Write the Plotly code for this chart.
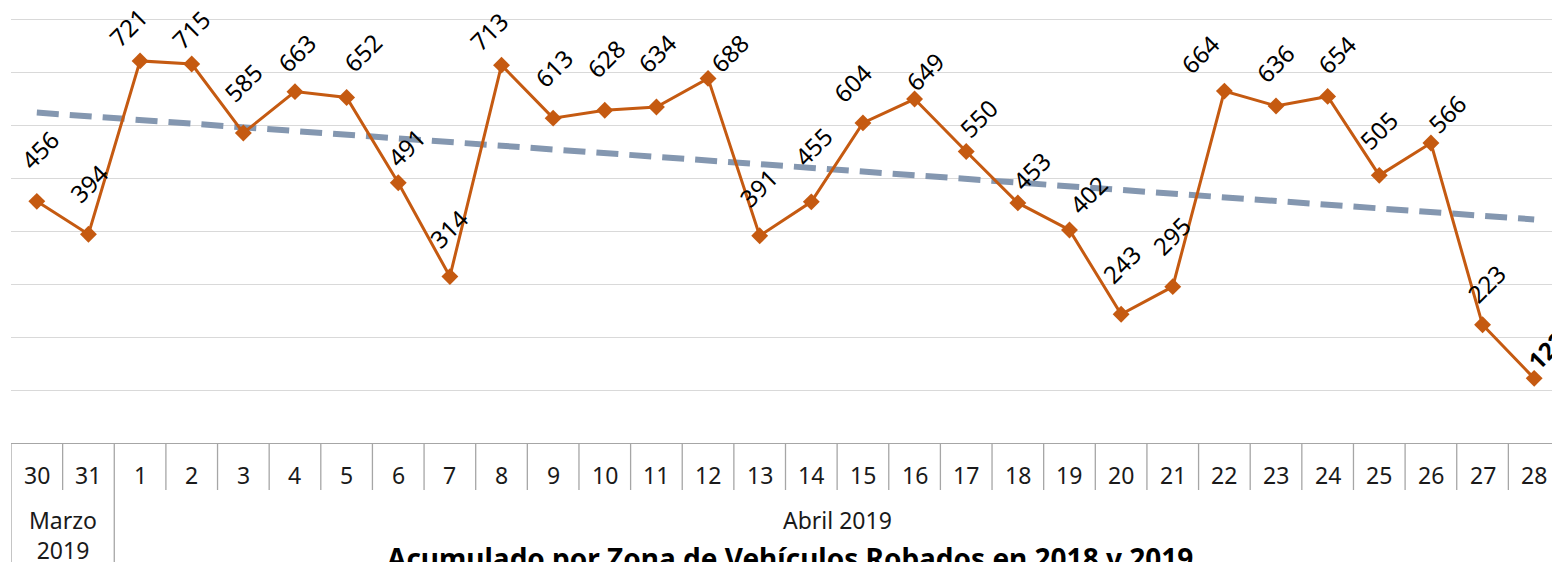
import numpy as np
import plotly.graph_objects as go

# ---- data ----
days = ["30", "31"] + [str(d) for d in range(1, 29)]
months = ["Marzo<br>2019", "Abril 2019"]
month_counts = [2, 28]
values = [456, 394, 721, 715, 585, 663, 652, 491, 314, 713,
          613, 628, 634, 688, 391, 455, 604, 649, 550, 453,
          402, 243, 295, 664, 636, 654, 505, 566, 223, 122]
title_text = "Acumulado por Zona de Vehículos Robados en 2018 y 2019"

# label offsets (pixels, screen coords: dx right, dy down) - styling only
label_offsets = [(3, -52), (0, -51), (-12, -33), (-1, -35), (0, -50), (2, -39),
                 (16, -45), (8, -35), (-1, -48), (-13, -34), (0, -50), (1, -52),
                 (0, -54), (21, -25), (-1, -48), (2, -55), (-10, -40), (10, -28),
                 (12, -33), (14, -32), (19, -35), (0, -50), (-1, -51), (-25, -37),
                 (-1, -42), (9, -42), (-1, -45), (16, -30), (4, -41), (12, -28)]

FONT = "Noto Sans"
ORANGE = "#C55A11"
TREND = "#8497B0"
AXIS = "#A6A6A6"

# the page body has an 8px margin: compensate so the plot area lands at
# page x 11..1560, page y 0..443
W, H = 1560, 562
ML, MR, MT = 3, 8, 0
PH = 435
MB = H - MT - PH
YMAX = 820.8

fig = go.Figure()

# linear trend (least squares over all points)
idx = np.arange(len(values))
slope, intercept = np.polyfit(idx, np.array(values, dtype=float), 1)
fig.add_trace(go.Scatter(
    x=[days[0], days[-1]],
    y=[intercept, intercept + slope * idx[-1]],
    mode="lines",
    line=dict(color=TREND, width=6, dash="22px,11px"),
    hoverinfo="skip", showlegend=False,
))

fig.add_trace(go.Scatter(
    x=days, y=values, mode="lines+markers",
    line=dict(color=ORANGE, width=3),
    marker=dict(symbol="diamond", size=13, color=ORANGE),
    showlegend=False, cliponaxis=False,
))

annotations = []
for i, v in enumerate(values):
    dx, dy = label_offsets[i]
    last = i == len(values) - 1
    annotations.append(dict(
        x=i, y=v, xref="x", yref="y", text=f"<b>{v}</b>" if last else str(v),
        showarrow=False, textangle=-45, xshift=dx, yshift=-dy,
        font=dict(family=FONT, size=24, color="#000000"),
        xanchor="center", yanchor="middle",
    ))

# day tick labels
for i, d in enumerate(days):
    annotations.append(dict(
        x=i, y=0, xref="x", yref="paper", text=d, showarrow=False,
        yshift=-32, yanchor="middle", xanchor="center",
        font=dict(family=FONT, size=23, color="#1a1a1a"),
    ))

# month group labels
start = 0
shapes = []
for m, c in zip(months, month_counts):
    center = start + (c - 1) / 2
    annotations.append(dict(
        x=center, y=0, xref="x", yref="paper", text=m, showarrow=False,
        yshift=-77 if c > 2 else -92, yanchor="middle", xanchor="center",
        font=dict(family=FONT, size=23, color="#1a1a1a"),
    ))
    start += c

# title (partially cut at bottom like the reference)
annotations.append(dict(
    x=0.5, y=0, xref="paper", yref="paper", text=f"<b>{title_text}</b>",
    showarrow=False, yshift=-94, yanchor="top", xanchor="center", xshift=4,
    font=dict(family=FONT, size=28, color="#000000"),
))

# box lines of the category axis
group_bounds = set()
acc = 0
for c in month_counts:
    group_bounds.add(acc)
    acc += c
tick_h = 47 / PH
for i in range(len(days)):
    y1 = -(MB + 20) / PH if i in group_bounds else -tick_h
    shapes.append(dict(
        type="line", xref="x", yref="paper", x0=i - 0.5, x1=i - 0.5,
        y0=0, y1=y1, line=dict(color=AXIS, width=1.3),
    ))

fig.update_layout(
    width=W, height=H,
    margin=dict(l=ML, r=MR, t=MT, b=MB, pad=0),
    paper_bgcolor="white", plot_bgcolor="white",
    annotations=annotations, shapes=shapes,
    xaxis=dict(type="category", categoryorder="array", categoryarray=days,
               range=[-0.5, len(days) - 0.5], showticklabels=False,
               showgrid=False, zeroline=False, showline=True,
               linecolor=AXIS, linewidth=1.3, ticks=""),
    yaxis=dict(range=[0, YMAX], dtick=100, tick0=0, showticklabels=False,
               showgrid=True, gridcolor="#D9D9D9", gridwidth=1,
               zeroline=False, showline=False, ticks=""),
)

fig.write_html("out.html")
